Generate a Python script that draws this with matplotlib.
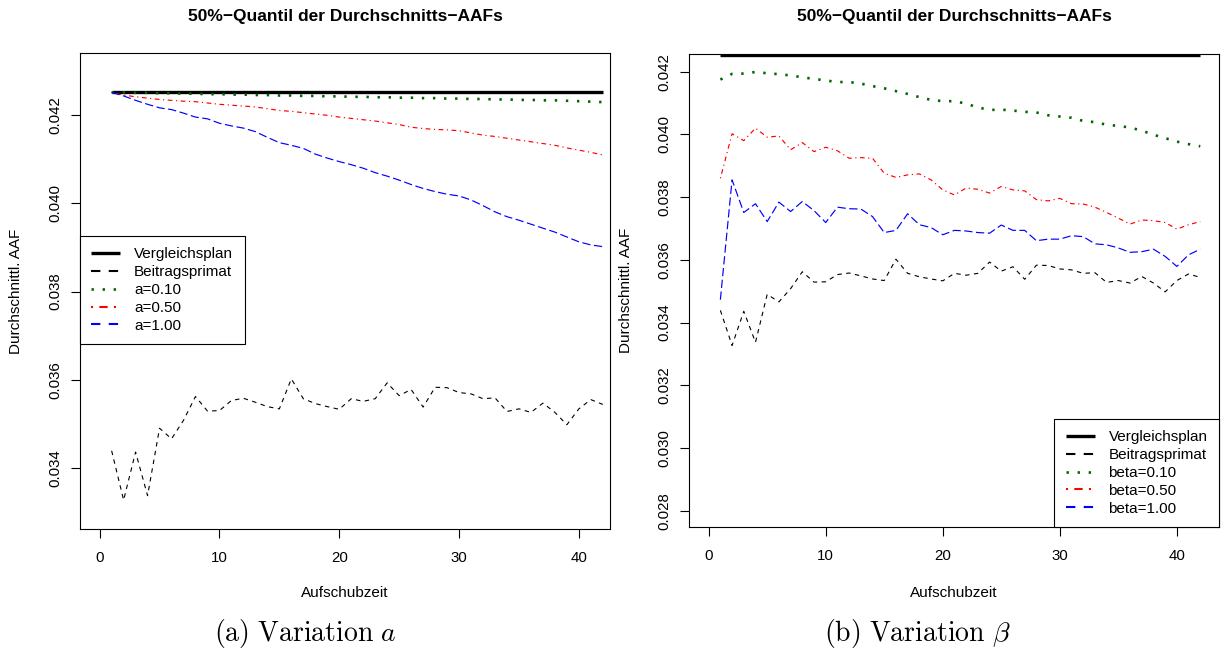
import matplotlib
matplotlib.use("Agg")
import matplotlib.pyplot as plt
from matplotlib.ticker import FormatStrFormatter

plt.rcParams['font.family'] = ['Liberation Sans', 'DejaVu Sans']
plt.rcParams['mathtext.fontset'] = 'cm'

# Aufschubzeit 1..42
aufschub = list(range(1, 43))
vergleich = [0.04252] * 42

beitrag = [0.03439, 0.03327, 0.03436, 0.03337, 0.03490, 0.03466, 0.03508, 0.03562,
           0.03529, 0.03530, 0.03553, 0.03558, 0.03549, 0.03539, 0.03534, 0.03602,
           0.03557, 0.03546, 0.03539, 0.03533, 0.03557, 0.03551, 0.03557, 0.03593,
           0.03564, 0.03578, 0.03538, 0.03583, 0.03582, 0.03571, 0.03568, 0.03557,
           0.03559, 0.03528, 0.03534, 0.03526, 0.03547, 0.03526, 0.03498, 0.03534,
           0.03555, 0.03544]

a010 = [0.04252, 0.04252, 0.04251, 0.04251, 0.04250, 0.04250, 0.04249, 0.04249,
        0.04248, 0.04248, 0.04247, 0.04247, 0.04246, 0.04246, 0.04245, 0.04245,
        0.04244, 0.04244, 0.04243, 0.04243, 0.04242, 0.04242, 0.04241, 0.04241,
        0.04240, 0.04240, 0.04239, 0.04239, 0.04238, 0.04238, 0.04237, 0.04237,
        0.04236, 0.04236, 0.04235, 0.04235, 0.04234, 0.04234, 0.04233, 0.04232,
        0.04231, 0.04230]
a050 = [0.04252, 0.04246, 0.04242, 0.04239, 0.04236, 0.04234, 0.04232, 0.04231,
        0.04228, 0.04225, 0.04223, 0.04221, 0.04219, 0.04215, 0.04211, 0.04209,
        0.04206, 0.04203, 0.04200, 0.04196, 0.04193, 0.04190, 0.04187, 0.04183,
        0.04179, 0.04173, 0.04170, 0.04168, 0.04167, 0.04165, 0.04160, 0.04155,
        0.04152, 0.04148, 0.04144, 0.04140, 0.04136, 0.04132, 0.04126, 0.04121,
        0.04116, 0.04110]
a100 = [0.04252, 0.04244, 0.04234, 0.04225, 0.04217, 0.04213, 0.04205, 0.04196,
        0.04192, 0.04182, 0.04176, 0.04171, 0.04163, 0.04150, 0.04138, 0.04132,
        0.04125, 0.04112, 0.04103, 0.04095, 0.04088, 0.04080, 0.04070, 0.04062,
        0.04053, 0.04043, 0.04034, 0.04027, 0.04021, 0.04017, 0.04008, 0.03995,
        0.03981, 0.03970, 0.03962, 0.03953, 0.03944, 0.03935, 0.03924, 0.03913,
        0.03906, 0.03902]

b010 = [0.04175, 0.04193, 0.04194, 0.04199, 0.04195, 0.04192, 0.04188, 0.04182,
        0.04177, 0.04172, 0.04167, 0.04167, 0.04162, 0.04154, 0.04147, 0.04138,
        0.04129, 0.04119, 0.04110, 0.04106, 0.04106, 0.04098, 0.04086, 0.04078,
        0.04079, 0.04076, 0.04072, 0.04070, 0.04061, 0.04057, 0.04053, 0.04043,
        0.04039, 0.04031, 0.04027, 0.04022, 0.04012, 0.03999, 0.03988, 0.03977,
        0.03969, 0.03962]
b050 = [0.03860, 0.04002, 0.03980, 0.04020, 0.03991, 0.03995, 0.03951, 0.03974,
        0.03945, 0.03959, 0.03948, 0.03924, 0.03926, 0.03924, 0.03876, 0.03863,
        0.03871, 0.03874, 0.03855, 0.03823, 0.03807, 0.03829, 0.03825, 0.03813,
        0.03834, 0.03823, 0.03820, 0.03792, 0.03788, 0.03796, 0.03779, 0.03778,
        0.03768, 0.03751, 0.03733, 0.03714, 0.03727, 0.03725, 0.03719, 0.03698,
        0.03712, 0.03722]
b100 = [0.03473, 0.03855, 0.03751, 0.03779, 0.03722, 0.03784, 0.03754, 0.03786,
        0.03757, 0.03719, 0.03768, 0.03763, 0.03762, 0.03738, 0.03687, 0.03694,
        0.03747, 0.03712, 0.03703, 0.03680, 0.03694, 0.03692, 0.03687, 0.03685,
        0.03711, 0.03694, 0.03694, 0.03661, 0.03666, 0.03666, 0.03677, 0.03674,
        0.03651, 0.03648, 0.03638, 0.03624, 0.03626, 0.03634, 0.03611, 0.03579,
        0.03616, 0.03634]

W, H = 1223, 653
fig = plt.figure(figsize=(W / 100, H / 100), dpi=100)


def px_box(x0, y0, x1, y1):
    return [x0 / W, 1 - y1 / H, (x1 - x0) / W, (y1 - y0) / H]


def panel(rect, series, labels, xlim, ylim, yticks, leg_loc, leg_anchor, ylab_x):
    ax = fig.add_axes(rect)
    ax.plot(aufschub, vergleich, color='black', lw=2.4, solid_capstyle='butt', label='Vergleichsplan')
    ax.plot(aufschub, beitrag, color='black', lw=0.8, dashes=(4, 4), label='Beitragsprimat')
    ax.plot(aufschub, series[0], color='#006400', lw=1.9, dashes=(0.9, 3.3), label=labels[0])
    ax.plot(aufschub, series[1], color='red', lw=0.85, dashes=(1, 3, 4, 3), label=labels[1])
    ax.plot(aufschub, series[2], color='blue', lw=0.85, dashes=(7, 3), label=labels[2])
    ax.set_xlim(*xlim)
    ax.set_ylim(*ylim)
    ax.set_xticks([0, 10, 20, 30, 40])
    ax.set_yticks(yticks)
    ax.yaxis.set_major_formatter(FormatStrFormatter('%.3f'))
    ax.tick_params(direction='out', length=6.5, width=0.8, labelsize=10.8, pad=6)
    ax.tick_params(axis='x', pad=9)
    ax.tick_params(axis='y', labelrotation=90)
    for lbl in ax.get_yticklabels():
        lbl.set_va('center')
    for s in ax.spines.values():
        s.set_linewidth(0.8)
    leg = ax.legend(loc=leg_loc, bbox_to_anchor=leg_anchor, fontsize=11, frameon=True,
                    fancybox=False, edgecolor='black', framealpha=1, borderaxespad=0,
                    handlelength=1.9, handletextpad=0.9, labelspacing=0.25, borderpad=0.75)
    leg.get_frame().set_linewidth(0.8)
    # thicker samples in the legend, like R's legend
    leg_lines = leg.get_lines()
    leg_lines[0].set_linewidth(2.4)
    leg_lines[1].set_linewidth(1.5)
    leg_lines[1].set_dashes((4.5, 4))
    leg_lines[2].set_linewidth(1.9)
    leg_lines[3].set_linewidth(1.5)
    leg_lines[3].set_dashes((1, 3, 4, 3))
    leg_lines[4].set_linewidth(1.5)
    leg_lines[4].set_dashes((4.5, 4))
    cx = (rect[0] + rect[2] / 2)
    fig.text(cx, 1 - 17 / H, '50%\u2212Quantil der Durchschnitts\u2212AAFs', ha='center', va='center',
             fontsize=12.5, fontweight='bold')
    fig.text(cx, 1 - 593 / H, 'Aufschubzeit', ha='center', va='center', fontsize=11)
    fig.text(ylab_x / W, rect[1] + rect[3] / 2, 'Durchschnittl. AAF', rotation=90,
             ha='center', va='center', fontsize=11)
    return ax


panel(px_box(80, 53, 610, 529), [a010, a050, a100], ['a=0.10', 'a=0.50', 'a=1.00'],
      (-1.64, 42.6), (0.032614, 0.043414), [0.034, 0.036, 0.038, 0.040, 0.042],
      'upper left', (0, (529 - 236) / 476), 16)
panel(px_box(689, 54, 1219, 527), [b010, b050, b100], ['beta=0.10', 'beta=0.50', 'beta=1.00'],
      (-1.68, 43.6), (0.027481, 0.042564), [0.028, 0.030, 0.032, 0.034, 0.036, 0.038, 0.040, 0.042],
      'lower right', (1, 0), 626)

fig.text(305 / W, 1 - 633 / H, r'$\mathrm{(a)\ Variation}\ a$', ha='center', va='center', fontsize=20)
fig.text(917 / W, 1 - 633 / H, r'$\mathrm{(b)\ Variation}\ \beta$', ha='center', va='center', fontsize=20)

fig.savefig('out.png', dpi=100)
